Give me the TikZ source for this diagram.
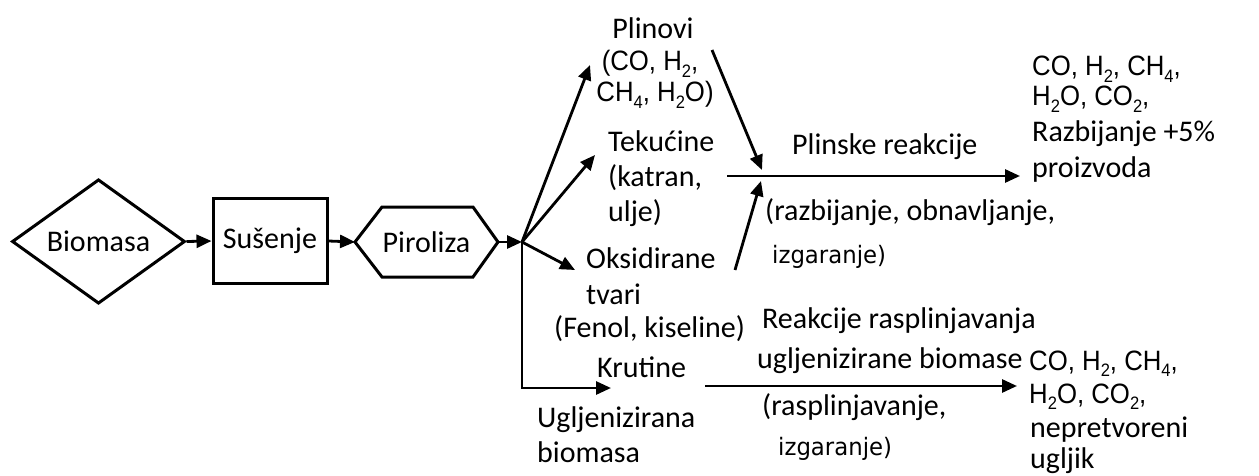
\documentclass[tikz,border=0pt]{standalone}
\usepackage{fontspec}
\setmainfont{Carlito}
\newfontfamily\arialf[FakeStretch=0.92]{Liberation Sans}
\newfontfamily\verdf[FakeStretch=0.95]{DejaVu Sans}
\usetikzlibrary{shapes.geometric,arrows.meta}
\newcommand\chs[1]{\raisebox{-0.22em}{\fontsize{18}{18}\selectfont #1}}
\tikzset{
  txt/.style={inner sep=0pt, font=\fontsize{30}{36}\selectfont, anchor=base west},
  chem/.style={inner sep=0pt, font=\arialf\fontsize{28}{32}\selectfont, anchor=base west,
               text height=20pt, text depth=6pt},
  smalltxt/.style={inner sep=0pt, font=\verdf\fontsize{24}{28}\selectfont, anchor=base west},
  arr/.style={line width=2.8pt, -{Triangle[length=15pt,width=13pt]}},
  outline/.style={draw, line width=3pt},
}
\begin{document}
\begin{tikzpicture}[x=1pt,y=-1pt]
\path[use as bounding box] (0,0) rectangle (1259,476);
% main chain
\node[diamond, outline, minimum width=173pt, minimum height=93pt, inner sep=0pt,
      font=\fontsize{30}{36}\selectfont] (bio) at (98.5,241.5) {Biomasa};
\node[outline, minimum width=114pt, minimum height=84pt, inner sep=0pt,
      font=\fontsize{30}{36}\selectfont] (sus) at (270,241) {Sušenje};
\coordinate (pL) at (355,242);
\coordinate (pR) at (498,242);
\draw[outline, line join=miter] (pL) -- (382,207) -- (473,207) -- (pR) -- (473,277) -- (382,277) -- cycle;
\node[inner sep=0pt, font=\fontsize{30}{36}\selectfont] (piro) at (426.5,242) {Piroliza};
\coordinate (J) at (522,242);
\draw[arr] (bio.east) -- (sus.west);
\draw[arr] (sus.east) -- (pL);
\draw[arr] (pR) -- (J);
% branches
\coordinate (gA) at (590,65);
\coordinate (tA) at (595,155);
\coordinate (oA) at (575,270);
\coordinate (kA) at (611,388);
\draw[arr] (J) -- (gA);
\draw[arr] (J) -- (tA);
\draw[arr] (J) -- (oA);
\draw[arr] (J) |- (kA);
% products of pyrolysis
\node[txt, anchor=base] (plin1) at (653,39) {Plinovi};
\node[chem, anchor=base] (plin2) at (650,71) {(CO, H\chs{2},};
\node[chem, anchor=base] (plin3) at (655,102) {CH\chs{4}, H\chs{2}O)};
\node[txt] (tek1) at (608,152) {Tekućine};
\node[txt] (tek2) at (608,186) {(katran,};
\node[txt] (tek3) at (608,222) {ulje)};
\node[txt] (oks1) at (586,268) {Oksidirane};
\node[txt] (oks2) at (586,304) {tvari};
\node[txt] (oks3) at (554,337) {(Fenol, kiseline)};
\node[txt] (kru) at (597,377) {Krutine};
\node[txt] (ugl1) at (537,427) {Ugljenizirana};
\node[txt] (ugl2) at (537,462) {biomasa};
% gas reactions
\coordinate (pS) at (712,50);
\coordinate (pE) at (762,170);
\coordinate (uS) at (735,270);
\coordinate (uE) at (761,181);
\coordinate (hS) at (727,176);
\coordinate (hE) at (1020,176);
\draw[arr] (pS) -- (pE);
\draw[arr] (uS) -- (uE);
\draw[arr] (hS) -- (hE);
\node[txt] (plr) at (792,155) {Plinske reakcije};
\node[txt] (raz1) at (765,220) {(razbijanje, obnavljanje,};
\node[smalltxt] (raz2) at (772,263) {izgaranje)};
\node[chem] (out1) at (1032,76) {CO, H\chs{2}, CH\chs{4},};
\node[chem] (out2) at (1032,106) {H\chs{2}O, CO\chs{2},};
\node[txt] (out3) at (1032,142) {Razbijanje +5\%};
\node[txt] (out4) at (1032,178) {proizvoda};
% char gasification
\coordinate (bS) at (705,386);
\coordinate (bE) at (1017,386);
\draw[arr] (bS) -- (bE);
\node[txt] (rea1) at (762,328) {Reakcije rasplinjavanja};
\node[txt] (rea2) at (757,368) {ugljenizirane biomase};
\node[txt] (ras1) at (762,415) {(rasplinjavanje,};
\node[smalltxt] (ras2) at (778,455) {izgaranje)};
\node[chem] (bout1) at (1029,370) {CO, H\chs{2}, CH\chs{4},};
\node[chem] (bout2) at (1029,403) {H\chs{2}O, CO\chs{2},};
\node[txt] (bout3) at (1030,437) {nepretvoreni};
\node[txt] (bout4) at (1030,468) {ugljik};
\end{tikzpicture}
\end{document}
